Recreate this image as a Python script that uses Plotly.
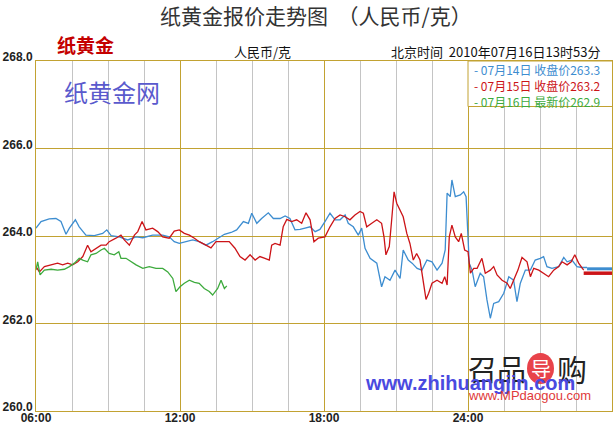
import plotly.graph_objects as go

# ---- data (hours since 00:00 of the trading day; 30 = next day 06:00) ----
t_0714 = [6.00, 6.21, 6.55, 6.83, 7.04, 7.25, 7.39, 7.64, 7.80, 8.08, 8.43, 8.78, 8.95, 9.13, 9.47,
          9.82, 10.17, 10.45, 10.86, 11.28, 11.55, 11.76, 11.97, 12.25, 12.53, 12.80, 13.08, 13.36,
          13.57, 13.85, 14.13, 14.36, 14.64, 14.85, 14.99, 15.20, 15.40, 15.68, 15.89, 16.17, 16.38,
          16.58, 16.79, 17.00, 17.21, 17.42, 17.63, 17.83, 18.04, 18.25, 18.46, 18.67, 18.88, 19.01,
          19.22, 19.43, 19.57, 19.71, 19.92, 20.20, 20.40, 20.54, 20.75, 20.96, 21.17, 21.30, 21.51,
          21.67, 21.88, 22.08, 22.29, 22.50, 22.71, 22.92, 23.05, 23.13, 23.26, 23.33, 23.47, 23.68,
          23.82, 23.92, 24.00, 24.05, 24.17, 24.30, 24.51, 24.65, 24.79, 24.93, 25.07, 25.28, 25.49,
          25.70, 25.90, 26.04, 26.18, 26.39, 26.60, 26.80, 27.01, 27.15, 27.29, 27.50, 27.78, 27.99,
          28.13, 28.33, 28.54, 28.75, 28.96]
v_0714 = [264.18, 264.33, 264.39, 264.40, 264.33, 264.04, 264.18, 264.37, 264.21, 264.02, 264.01,
          264.06, 264.14, 264.01, 263.98, 263.91, 263.98, 263.96, 264.02, 264.02, 263.98, 263.87,
          263.83, 263.87, 263.91, 263.87, 263.79, 263.87, 263.95, 264.04, 264.08, 264.14, 264.33,
          264.29, 264.52, 264.29, 264.40, 264.53, 264.40, 264.40, 264.46, 264.40, 264.14, 264.15,
          264.18, 264.21, 264.10, 264.15, 264.33, 264.52, 264.37, 264.37, 264.48, 264.29, 264.21,
          264.02, 264.18, 263.72, 263.49, 263.38, 262.84, 263.07, 262.99, 263.22, 263.03, 263.68,
          263.45, 263.38, 263.26, 263.22, 263.45, 263.41, 263.22, 263.38, 263.68, 264.98, 264.90,
          265.28, 264.90, 264.94, 265.01, 264.90, 263.98, 263.38, 263.22, 262.84, 263.15, 263.07,
          262.54, 262.12, 262.46, 262.50, 262.69, 263.07, 262.99, 262.50, 262.92, 263.22, 263.22,
          263.45, 263.49, 263.53, 263.30, 263.26, 263.30, 263.51, 263.41, 263.45, 263.30, 263.28,
          263.28]

t_0715 = [6.00, 6.14, 6.35, 6.63, 6.90, 7.11, 7.32, 7.53, 7.74, 7.95, 8.15, 8.29, 8.50, 8.71, 8.92,
          9.05, 9.33, 9.54, 9.68, 9.89, 10.10, 10.24, 10.42, 10.58, 10.86, 11.07, 11.28, 11.55,
          11.76, 11.97, 12.18, 12.39, 12.60, 12.80, 13.08, 13.29, 13.50, 13.78, 14.05, 14.29, 14.50,
          14.71, 14.92, 15.13, 15.33, 15.54, 15.72, 15.82, 15.96, 16.17, 16.30, 16.45, 16.65, 16.86,
          17.07, 17.25, 17.42, 17.58, 17.76, 18.04, 18.25, 18.46, 18.67, 18.88, 19.08, 19.29, 19.50,
          19.64, 19.78, 19.99, 20.20, 20.40, 20.50, 20.58, 20.72, 20.82, 20.92, 21.03, 21.17, 21.30,
          21.45, 21.58, 21.72, 21.86, 22.00, 22.14, 22.25, 22.36, 22.50, 22.71, 22.92, 23.03, 23.13,
          23.22, 23.33, 23.47, 23.61, 23.72, 23.86, 24.00, 24.10, 24.24, 24.38, 24.58, 24.72, 24.93,
          25.07, 25.21, 25.42, 25.63, 25.76, 25.90, 26.08, 26.25, 26.46, 26.60, 26.74, 26.95, 27.15,
          27.36, 27.57, 27.78, 27.92, 28.13, 28.30, 28.45, 28.61, 28.82]
v_0715 = [263.30, 263.18, 263.30, 263.34, 263.38, 263.34, 263.38, 263.34, 263.41, 263.53, 263.79,
          263.64, 263.72, 263.79, 263.79, 263.87, 263.95, 264.02, 263.91, 263.79, 264.02, 264.10,
          264.33, 264.14, 264.18, 264.10, 263.98, 263.95, 264.11, 264.14, 264.06, 264.02, 263.95,
          263.87, 263.79, 263.73, 263.87, 263.87, 263.87, 263.72, 263.53, 263.45, 263.57, 263.45,
          263.53, 263.49, 263.45, 263.79, 263.83, 263.79, 264.21, 264.38, 264.33, 264.37, 264.29,
          264.53, 264.37, 263.87, 263.95, 263.98, 264.21, 264.40, 264.48, 264.44, 264.37, 264.48,
          264.56, 264.52, 264.21, 264.29, 264.37, 264.29, 263.98, 263.57, 263.76, 264.37, 265.01,
          264.75, 264.60, 264.44, 264.06, 263.83, 263.45, 263.60, 263.45, 262.99, 262.55, 262.69,
          262.92, 262.99, 262.92, 263.07, 262.88, 263.98, 264.25, 263.98, 263.87, 264.06, 263.68,
          263.64, 263.15, 263.26, 263.26, 263.49, 263.15, 263.22, 263.30, 263.11, 262.99, 262.92,
          262.80, 262.99, 263.22, 263.51, 263.41, 263.07, 263.26, 263.22, 263.15, 263.07, 263.22,
          263.30, 263.41, 263.34, 263.41, 263.57, 263.38, 263.22]

t_0716 = [6.00, 6.07, 6.17, 6.35, 6.63, 6.90, 7.18, 7.39, 7.60, 7.80, 7.95, 8.15, 8.29, 8.50, 8.71,
          8.85, 9.05, 9.26, 9.45, 9.54, 9.75, 9.96, 10.17, 10.45, 10.72, 11.00, 11.28, 11.49, 11.70,
          11.83, 12.00, 12.18, 12.39, 12.60, 12.80, 13.01, 13.22, 13.36, 13.57, 13.71, 13.85, 13.95]
v_0716 = [263.22, 263.41, 263.11, 263.22, 263.24, 263.22, 263.24, 263.30, 263.38, 263.49, 263.45,
          263.41, 263.57, 263.60, 263.68, 263.72, 263.60, 263.57, 263.64, 263.49, 263.49, 263.41,
          263.34, 263.26, 263.30, 263.26, 263.26, 263.18, 263.03, 262.73, 262.84, 262.92, 262.99,
          262.94, 262.92, 262.80, 262.73, 262.65, 262.80, 262.99, 262.80, 262.86]

# flat "latest" tails after last quote
tail_t14 = [28.96, 30.0]
tail_0714 = [263.25, 263.25]
tail_t15 = [28.82, 30.0]
tail_0715 = [263.15, 263.15]

x_tickvals = [6, 12, 18, 24, 30]
x_ticktext = ["06:00", "12:00", "18:00", "24:00", "06:00"]
y_tickvals = [260, 262, 264, 266, 268]
y_ticktext = ["260.0", "262.0", "264.0", "266.0", "268.0"]

legend_lines = ["- 07月14日 收盘价263.3", "- 07月15日 收盘价263.2", "- 07月16日 最新价262.9"]

BLUE = "#3D8DD0"
RED = "#CC1418"
GREEN = "#3DAA3D"
GOLD = "#C2A232"
GREY = "#C4C4C4"

fig = go.Figure()
fig.add_trace(go.Scatter(x=t_0714, y=v_0714, mode="lines", line=dict(color=BLUE, width=1.3)))
fig.add_trace(go.Scatter(x=tail_t14, y=tail_0714, mode="lines", line=dict(color=BLUE, width=3)))
fig.add_trace(go.Scatter(x=t_0715, y=v_0715, mode="lines", line=dict(color=RED, width=1.3)))
fig.add_trace(go.Scatter(x=tail_t15, y=tail_0715, mode="lines", line=dict(color=RED, width=3.5)))
fig.add_trace(go.Scatter(x=t_0716, y=v_0716, mode="lines", line=dict(color=GREEN, width=1.3)))

CJK = "Noto Sans CJK SC"
PL, PT, PW, PH = 36, 61, 576, 350  # plot box in pixels


def px(x):
    return (x - PL) / PW


def py(y):
    return 1 - (y - PT) / PH


fig.update_layout(
    width=614, height=424,
    margin=dict(l=PL, r=614 - PL - PW, t=PT, b=424 - PT - PH),
    paper_bgcolor="white", plot_bgcolor="white",
    showlegend=False,
    xaxis=dict(range=[6, 30], tickvals=x_tickvals, ticktext=x_ticktext, automargin=False,
               showgrid=True, gridcolor=GOLD, gridwidth=1,
               minor=dict(dtick=1.5, tick0=6, showgrid=True, gridcolor=GREY, gridwidth=1),
               showline=True, linecolor=GOLD, linewidth=1, mirror=True, zeroline=False,
               ticks="", ticklabelstandoff=-4,
               tickfont=dict(family="Liberation Sans", size=12, color="#222222", weight="bold"),
               fixedrange=True),
    yaxis=dict(range=[260, 268], tickvals=y_tickvals, ticktext=y_ticktext, automargin=False,
               showgrid=True, gridcolor=GOLD, gridwidth=1,
               showline=True, linecolor=GOLD, linewidth=1, mirror=True, zeroline=False,
               ticks="", ticklabelshift=-4, ticklabelstandoff=0,
               tickfont=dict(family="Liberation Sans", size=12, color="#222222", weight="bold"),
               fixedrange=True),
)

# legend box in upper right
fig.add_shape(type="rect", xref="x", yref="y", x0=24, x1=30.3, y0=266.96, y1=268,
              line=dict(color=GOLD, width=1), fillcolor="white", layer="between")
leg_colors = [BLUE, RED, GREEN]
leg_y = [70, 86, 101]
for txt, c, yy in zip(legend_lines, leg_colors, leg_y):
    fig.add_annotation(text=txt, xref="paper", yref="paper", x=px(472), y=py(yy),
                       xanchor="left", yanchor="middle", showarrow=False,
                       font=dict(family=CJK, size=12, color=c))

# header texts
fig.add_annotation(text="纸黄金报价走势图\u00a0\u00a0（人民币/克）", xref="paper", yref="paper",
                   x=px(158), y=py(15), xanchor="left", yanchor="middle",
                   showarrow=False, font=dict(family=CJK, size=21, color="#333333"))
fig.add_annotation(text="<b>纸黄金</b>", xref="paper", yref="paper",
                   x=px(55), y=py(45), xanchor="left", yanchor="middle",
                   showarrow=False, font=dict(family=CJK, size=19, color="#C40000"))
fig.add_annotation(text="人民币/克", xref="paper", yref="paper",
                   x=px(262), y=py(51), xanchor="center", yanchor="middle",
                   showarrow=False, font=dict(family=CJK, size=13, color="#111111"))
fig.add_annotation(text="北京时间\u00a0\u00a02010年07月16日13时53分", xref="paper", yref="paper",
                   x=px(602), y=py(51), xanchor="right", yanchor="middle",
                   showarrow=False, font=dict(family=CJK, size=13, color="#111111"))

# watermarks
fig.add_annotation(text="纸黄金网", xref="paper", yref="paper",
                   x=px(62), y=py(92), xanchor="left", yanchor="middle",
                   showarrow=False, font=dict(family=CJK, size=24, color="#5A5ACD"))
fig.add_annotation(text="召品", xref="paper", yref="paper",
                   x=px(466), y=py(368), xanchor="left", yanchor="middle",
                   showarrow=False, font=dict(family=CJK, size=29, color="#222222"))
fig.add_shape(type="circle", xref="paper", yref="paper",
              x0=px(527), x1=px(554), y0=py(384), y1=py(353),
              fillcolor="#E8434A", line=dict(width=0), layer="above")
fig.add_annotation(text="导", xref="paper", yref="paper",
                   x=px(540.5), y=py(368), xanchor="center", yanchor="middle",
                   showarrow=False, font=dict(family=CJK, size=20, color="white"))
fig.add_annotation(text="购", xref="paper", yref="paper",
                   x=px(555), y=py(368), xanchor="left", yanchor="middle",
                   showarrow=False, font=dict(family=CJK, size=30, color="#222222"))
fig.add_annotation(text="<b>www.zhihuangjin.com</b>", xref="paper", yref="paper",
                   x=px(469.5), y=py(383), xanchor="center", yanchor="middle",
                   showarrow=False, font=dict(family="Liberation Sans", size=20, color="#4A4AE0"))
fig.add_annotation(text="www.MPdaogou.com", xref="paper", yref="paper",
                   x=px(529), y=py(395), xanchor="center", yanchor="middle",
                   showarrow=False, font=dict(family="Liberation Sans", size=13, color="#E03A3A"))

fig.write_html("out.html", config={"displayModeBar": False},
               post_script="document.body.style.margin='0';document.body.style.overflow='hidden';")
